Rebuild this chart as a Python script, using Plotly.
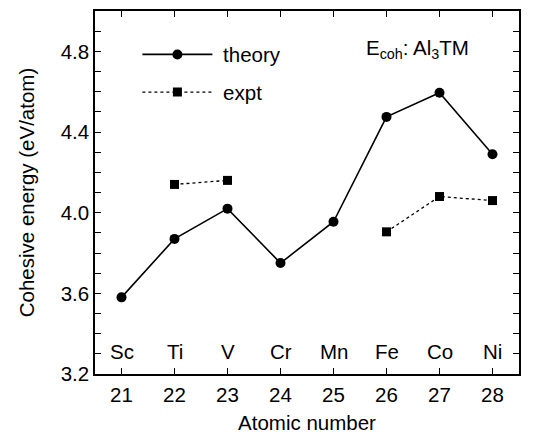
import plotly.graph_objects as go

# Cohesive energy of Al3TM compounds across the 3d transition metals
atomic_number = [21, 22, 23, 24, 25, 26, 27, 28]
element = ["Sc", "Ti", "V", "Cr", "Mn", "Fe", "Co", "Ni"]
theory = [3.58, 3.87, 4.02, 3.75, 3.955, 4.475, 4.595, 4.29]
expt = [None, 4.14, 4.16, None, None, 3.905, 4.08, 4.06]

FONT = "Liberation Sans, Arial, Helvetica, sans-serif"
TXT = 20.5

fig = go.Figure()

fig.add_trace(go.Scatter(
    x=atomic_number, y=theory, name="&nbsp;theory", mode="lines+markers",
    line=dict(color="black", width=1.6),
    marker=dict(symbol="circle", size=10, color="black"),
    legendgroup="a",
))
fig.add_trace(go.Scatter(
    x=atomic_number, y=expt, name="&nbsp;expt", mode="lines+markers",
    line=dict(color="black", width=1.3, dash="dot"),
    marker=dict(symbol="square", size=9, color="black"),
    connectgaps=False, legendgroup="b",
))

# element symbols written along the bottom of the plot
for z, sym in zip(atomic_number, element):
    fig.add_annotation(x=z, y=3.31, xref="x", yref="y", text=sym,
                       showarrow=False, font=dict(size=TXT, color="black", family=FONT))

fig.add_annotation(
    x=0.886, y=0.896, xref="paper", yref="paper", xanchor="right", yanchor="middle",
    text="E<sub>coh</sub>: Al<sub>3</sub>TM", showarrow=False,
    font=dict(size=TXT, color="black", family=FONT),
)

axis_common = dict(
    showline=True, linecolor="black", linewidth=1.5, mirror="ticks",
    ticks="inside", ticklen=6, tickwidth=1.2, tickcolor="black",
    showgrid=False, zeroline=False,
    tickfont=dict(size=TXT, color="black", family=FONT),
)

fig.update_xaxes(
    **axis_common, range=[20.5, 28.5], tickmode="array", tickvals=atomic_number,
    ticklabelstandoff=2,
    title=dict(text="Atomic number", font=dict(size=TXT, color="black", family=FONT), standoff=10),
)
fig.update_yaxes(
    **axis_common, range=[3.2, 5.0], tick0=3.2, dtick=0.4, tickformat=".1f",
    minor=dict(dtick=0.1, ticks="inside", ticklen=6, tickcolor="black", tickwidth=1.2),
    title=dict(text="Cohesive energy (eV/atom)", font=dict(size=TXT, color="black", family=FONT), standoff=20),
)

fig.update_layout(
    width=549, height=441,
    margin=dict(l=95, r=30, t=9, b=67),
    plot_bgcolor="white", paper_bgcolor="white",
    font=dict(family=FONT, color="black", size=TXT),
    showlegend=True,
    legend=dict(
        x=0.1, y=0.935, xanchor="left", yanchor="top",
        bgcolor="rgba(0,0,0,0)", itemwidth=70, tracegroupgap=8,
        traceorder="grouped", font=dict(size=TXT, family=FONT, color="black"),
    ),
)

fig.write_html("out.html")
